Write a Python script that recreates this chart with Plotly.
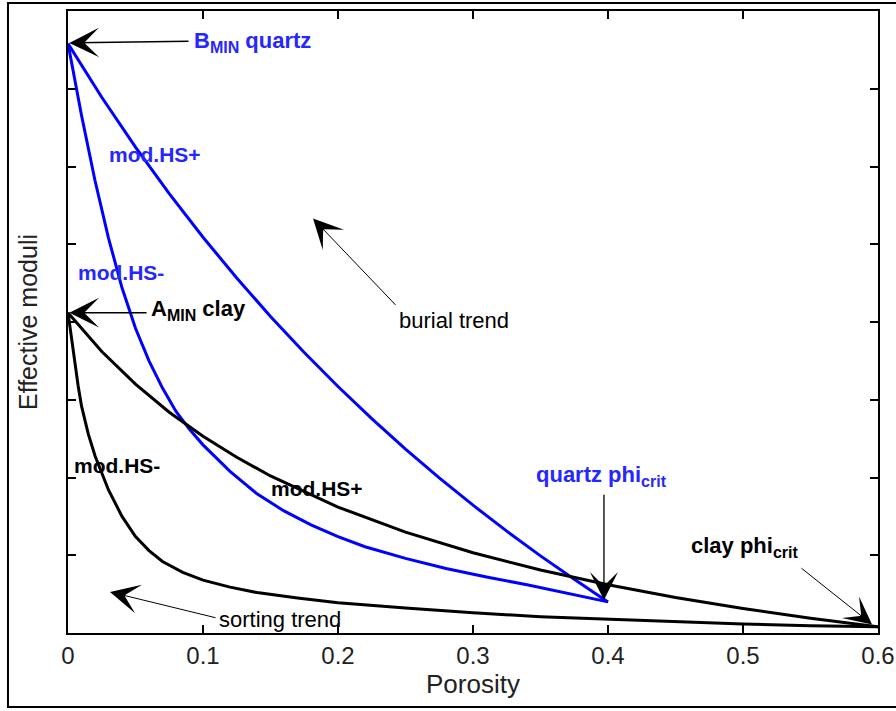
import plotly.graph_objects as go

# ---- data ----
phi_q_upper = [0, 0.025, 0.05, 0.075, 0.1, 0.125, 0.15, 0.175, 0.2, 0.225, 0.25,
               0.275, 0.3, 0.325, 0.35, 0.375, 0.4]
k_q_upper = [37.9, 34.45, 31.25, 28.26, 25.45, 22.83, 20.36, 18.04, 15.85, 13.79,
             11.83, 9.98, 8.22, 6.55, 4.96, 3.45, 2.0]

phi_q_lower = [0, 0.01, 0.02, 0.03, 0.04, 0.05, 0.06, 0.07, 0.08, 0.09, 0.10, 0.12,
               0.14, 0.16, 0.18, 0.20, 0.22, 0.25, 0.28, 0.31, 0.34, 0.37, 0.40]
k_q_lower = [37.9, 33.3, 29.1, 25.4, 22.2, 19.6, 17.5, 15.75, 14.25, 13.1, 12.1, 10.4,
             8.95, 7.85, 6.95, 6.2, 5.55, 4.8, 4.15, 3.6, 3.1, 2.55, 2.0]

phi_c_upper = [0, 0.025, 0.05, 0.075, 0.1, 0.125, 0.15, 0.2, 0.25, 0.3, 0.35, 0.4,
               0.45, 0.5, 0.55, 0.6]
k_c_upper = [20.6, 18.10, 16.0, 14.20, 12.65, 11.30, 10.10, 8.10, 6.49, 5.16, 4.05,
             3.10, 2.28, 1.57, 0.95, 0.4]

phi_c_lower = [0, 0.0025, 0.005, 0.0075, 0.01, 0.015, 0.02, 0.03, 0.04, 0.05, 0.06,
               0.07, 0.085, 0.1, 0.12, 0.14, 0.17, 0.2, 0.25, 0.3, 0.35, 0.4, 0.45,
               0.5, 0.55, 0.6]
k_c_lower = [20.6, 19.0, 17.4, 15.9, 14.6, 12.8, 11.4, 9.2, 7.5, 6.2, 5.3, 4.6, 3.9,
             3.4, 2.95, 2.6, 2.25, 1.95, 1.6, 1.3, 1.05, 0.88, 0.72, 0.58, 0.47, 0.4]

x_ticks = [0, 0.1, 0.2, 0.3, 0.4, 0.5, 0.6]
x_tick_labels = ["0", "0.1", "0.2", "0.3", "0.4", "0.5", "0.6"]

BLUE = "#0000ff"
TXT_BLUE = "#2626ff"
FONT = "Liberation Sans, Arial, sans-serif"

fig = go.Figure()
for xs, ys, c in [(phi_q_upper, k_q_upper, BLUE), (phi_q_lower, k_q_lower, BLUE),
                  (phi_c_upper, k_c_upper, "black"), (phi_c_lower, k_c_lower, "black")]:
    fig.add_trace(go.Scatter(x=xs, y=ys, mode="lines", line=dict(color=c, width=3),
                             showlegend=False, hoverinfo="skip"))

# arrows (tail -> head), in data coords
arrows = [
    ((0.0904, 38.05), (0.001, 37.95), 1.5, 3.3),   # B_MIN
    ((0.0593, 20.6), (0.001, 20.6), 1.5, 3.3),     # A_MIN
    ((0.2437, 21.0), (0.1815, 26.65), 1.0, 4.9),   # burial trend
    ((0.3970, 8.99), (0.3970, 2.12), 1.3, 3.6),    # quartz phi crit
    ((0.5422, 4.24), (0.5956, 0.55), 1.0, 4.6),    # clay phi crit
    ((0.1104, 0.96), (0.0311, 2.64), 1.0, 4.9),    # sorting trend
]
for (tx, ty), (hx, hy), w, s in arrows:
    fig.add_annotation(x=hx, y=hy, ax=tx, ay=ty, xref="x", yref="y", axref="x", ayref="y",
                       text="", showarrow=True, arrowhead=3, arrowsize=s, arrowwidth=w,
                       arrowcolor="black", standoff=0, startstandoff=0)

SUB = "<sub><span style='font-size:16px'>{}</span></sub>"
labels = [
    ("B" + SUB.format("MIN") + " quartz", 0.0926, 38.0, TXT_BLUE, True, 22),
    ("mod.HS+", 0.0296, 30.74, TXT_BLUE, True, 21),
    ("mod.HS-", 0.0067, 23.2, TXT_BLUE, True, 21),
    ("A" + SUB.format("MIN") + " clay", 0.0607, 20.8, "black", True, 22),
    ("burial trend", 0.2444, 20.1, "black", False, 22),
    ("mod.HS-", 0.0037, 10.8, "black", True, 21),
    ("mod.HS+", 0.1496, 9.32, "black", True, 21),
    ("quartz phi" + SUB.format("crit"), 0.346, 10.1, TXT_BLUE, True, 22),
    ("clay phi" + SUB.format("crit"), 0.4607, 5.55, "black", True, 22),
    ("sorting trend", 0.1110, 0.9, "black", False, 22),
]
for t, x, y, c, b, sz in labels:
    fig.add_annotation(x=x, y=y, xref="x", yref="y", text=(f"<b>{t}</b>" if b else t),
                       showarrow=False, xanchor="left", yanchor="middle",
                       font=dict(family=FONT, size=sz, color=c),
                       borderpad=0)

# outer figure border
fig.add_shape(type="rect", xref="paper", yref="paper", x0=-0.0741, x1=1.2,
              y0=-0.119, y1=1.0129, line=dict(color="black", width=2), layer="below")

fig.update_xaxes(range=[0, 0.6], tickvals=x_ticks, ticktext=x_tick_labels,
                 ticks="inside", ticklen=8, tickwidth=1.5, tickcolor="black",
                 showline=True, linecolor="black", linewidth=1.5, mirror="ticks",
                 showgrid=False, zeroline=False, automargin=False,
                 tickfont=dict(family=FONT, size=24, color="#222"),
                 title=dict(text="Porosity", font=dict(family=FONT, size=26, color="#222"), standoff=7))
fig.update_yaxes(range=[0, 40], dtick=5, showticklabels=False,
                 ticks="inside", ticklen=8, tickwidth=1.5, tickcolor="black",
                 showline=True, linecolor="black", linewidth=1.5, mirror="ticks",
                 showgrid=False, zeroline=False, automargin=False,
                 title=dict(text="Effective moduli", font=dict(family=FONT, size=25, color="#222"), standoff=22))

fig.update_layout(width=896, height=711, margin=dict(l=68, r=18, t=11, b=78),
                  plot_bgcolor="white", paper_bgcolor="white")

fig.write_html("out.html")
